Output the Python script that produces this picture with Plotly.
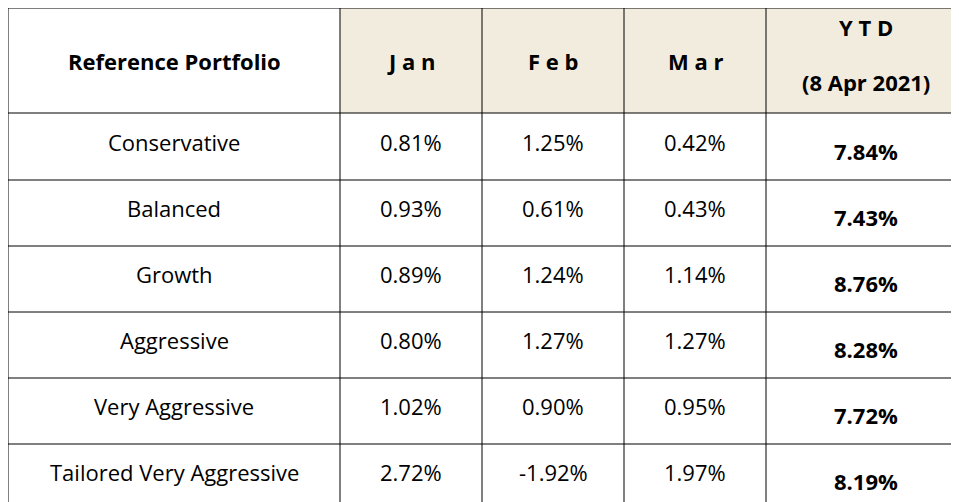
import plotly.graph_objects as go

portfolios = ["Conservative", "Balanced", "Growth", "Aggressive",
              "Very Aggressive", "Tailored Very Aggressive"]
jan = [0.81, 0.93, 0.89, 0.80, 1.02, 2.72]
feb = [1.25, 0.61, 1.24, 1.27, 0.90, -1.92]
mar = [0.42, 0.43, 1.14, 1.27, 0.95, 1.97]
ytd = [7.84, 7.43, 8.76, 8.28, 7.72, 8.19]
headers = ["Reference Portfolio", "J a n", "F e b", "M a r", "Y T D"]

# layout grid (pixels)
col_edges = [0, 332, 474, 616, 758, 958]
row_edges = [0, 105, 172, 238, 304, 370, 436, 502]
beige = "#f2ecdf"
font = dict(family="Open Sans", size=22, color="black")

fig = go.Figure()
fig.add_trace(go.Scatter(x=[], y=[]))
shapes, ann = [], []

for i in range(1, 5):
    shapes.append(dict(type="rect", x0=col_edges[i], x1=col_edges[i + 1],
                       y0=row_edges[0], y1=row_edges[1], fillcolor=beige,
                       line=dict(width=0), layer="below"))
for x in col_edges:
    shapes.append(dict(type="line", x0=x, x1=x, y0=0, y1=502,
                       line=dict(color="black", width=1)))
for y in row_edges:
    shapes.append(dict(type="line", x0=0, x1=958, y0=y, y1=y,
                       line=dict(color="black", width=1)))

def cx(i):
    return (col_edges[i] + col_edges[i + 1]) / 2

def cy(r):
    return (row_edges[r] + row_edges[r + 1]) / 2

for i, h in enumerate(headers):
    y = cy(0) if i < 4 else 19
    ann.append(dict(x=cx(i), y=y, text=f"<b>{h}</b>", font=font))
ann.append(dict(x=cx(4), y=74, text="<b>(8 Apr 2021)</b>", font=font))

cols = [portfolios,
        [f"{v:.2f}%" for v in jan],
        [f"{v:.2f}%" for v in feb],
        [f"{v:.2f}%" for v in mar],
        [f"<b>{v:.2f}%</b>" for v in ytd]]
for i, col in enumerate(cols):
    for r, t in enumerate(col):
        off = -5 if i < 4 else 4
        ann.append(dict(x=cx(i), y=cy(r + 1) + off, text=t, font=font))

for a in ann:
    a.update(showarrow=False, xref="x", yref="y")

fig.update_layout(width=959, height=502, margin=dict(l=0, r=0, t=0, b=0),
                  paper_bgcolor="white", plot_bgcolor="white",
                  shapes=shapes, annotations=ann, showlegend=False,
                  xaxis=dict(range=[0, 959], visible=False, fixedrange=True),
                  yaxis=dict(range=[502, 0], visible=False, fixedrange=True))
fig.write_html("out.html")
